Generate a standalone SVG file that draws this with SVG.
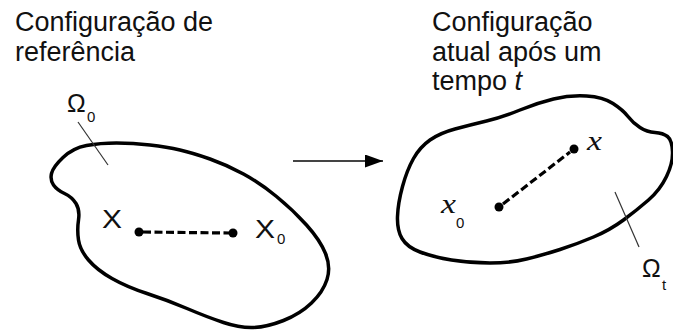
<svg xmlns="http://www.w3.org/2000/svg" width="673" height="330" viewBox="0 0 673 330">
<style>
.title{font-family:"Liberation Sans",Arial,sans-serif;font-size:27px;fill:#111}
.lbl{font-family:"Liberation Sans",Arial,sans-serif;fill:#111}
.math{font-family:"Liberation Serif","Times New Roman",serif;font-style:italic;fill:#111}
.blob{fill:none;stroke:#000;stroke-width:3.5;stroke-linejoin:round}
.dash{fill:none;stroke:#000;stroke-width:3.2;stroke-dasharray:8 3.5}
.lead{fill:none;stroke:#333;stroke-width:1.2}
.dot{fill:#000}
</style>
<defs>
<marker id="ah" markerWidth="18" markerHeight="13" refX="18" refY="6.5" orient="auto" markerUnits="userSpaceOnUse">
<polygon points="0,0 18,6.5 0,13" fill="#000"/>
</marker>
</defs>
<g id="title-left">
<text class="title" x="15" y="31">Configuração de</text>
<text class="title" x="15" y="61">referência</text>
</g>
<g id="title-right">
<text class="title" x="432" y="30.5">Configuração</text>
<text class="title" x="432" y="60.5">atual após um</text>
<text class="title" x="432" y="90">tempo <tspan font-style="italic">t</tspan></text>
</g>
<g id="body-reference">
<path class="blob" d="M86.5,145.5 Q100,143 116.5,143 Q133,143 150,145 Q167,147 180,150 Q193,153 210,159 Q227,165 243.5,174 Q260,183 276.5,196.5 Q293,210 306.5,225 Q320,240 325.5,253.5 Q331,267 327,279.5 Q323,292 311.5,303 Q300,314 283.5,320.5 Q267,327 253.5,327.5 Q240,328 223.5,322.5 Q207,317 187,308.5 Q167,300 147,293.5 Q127,287 112,278.5 Q97,270 88.5,260 Q80,250 78.5,240 Q77,230 78.5,220 Q80,210 76,203.5 Q72,197 64.5,193.5 Q57,190 53.5,185 Q50,180 51.5,173.5 Q53,167 63,157.5 Q73,148 86.5,145.5 Z"/>
<line class="lead" x1="78" y1="122" x2="108" y2="165"/>
<text class="lbl" x="67" y="112" font-size="25">Ω</text>
<text class="lbl" x="87" y="122" font-size="15">0</text>
</g>
<g id="point-X">
<text class="lbl" x="102" y="228" font-size="25" textLength="20" lengthAdjust="spacingAndGlyphs">X</text>
<circle class="dot" cx="139" cy="232" r="4.5"/>
</g>
<g id="point-X0">
<text class="lbl" x="255" y="238" font-size="25" textLength="20" lengthAdjust="spacingAndGlyphs">X</text>
<text class="lbl" x="277" y="244" font-size="15">0</text>
<circle class="dot" cx="233" cy="233" r="4.5"/>
</g>
<g id="body-current">
<path class="blob" d="M553.5,99 Q570,95 586.5,96 Q603,97 613,103.5 Q623,110 628,116.5 Q633,123 640,127.5 Q647,132 655,132.5 Q663,133 667.5,136.5 Q672,140 672.5,151.5 Q673,163 666.5,176.5 Q660,190 648.5,200 Q637,210 623.5,220 Q610,230 593.5,237 Q577,244 560,249.5 Q543,255 526.5,259 Q510,263 490,263 Q470,263 451.5,260 Q433,257 420,252 Q407,247 402,238.5 Q397,230 397.5,216.5 Q398,203 402.5,186.5 Q407,170 413.5,158.5 Q420,147 430,140 Q440,133 455,129 Q470,125 486.5,121 Q503,117 520,110 Q537,103 553.5,99 Z"/>
<line class="lead" x1="615" y1="192" x2="639" y2="247"/>
<text class="lbl" x="642" y="277" font-size="25">Ω</text>
<text class="lbl" x="662" y="290" font-size="15">t</text>
</g>
<g id="point-x0">
<text class="math" x="441" y="213" font-size="28" textLength="15" lengthAdjust="spacingAndGlyphs">x</text>
<text class="lbl" x="456" y="228" font-size="15">0</text>
<circle class="dot" cx="499" cy="207" r="4.5"/>
</g>
<g id="point-x">
<text class="math" x="587" y="150" font-size="28" textLength="15" lengthAdjust="spacingAndGlyphs">x</text>
<circle class="dot" cx="574" cy="149" r="4.5"/>
</g>
<g id="connectors">
<line class="dash" x1="143" y1="232" x2="229" y2="233"/>
<line class="dash" x1="503" y1="204" x2="570" y2="152"/>
<line x1="293" y1="161" x2="383" y2="161" stroke="#444" stroke-width="2" marker-end="url(#ah)"/>
</g>
</svg>
